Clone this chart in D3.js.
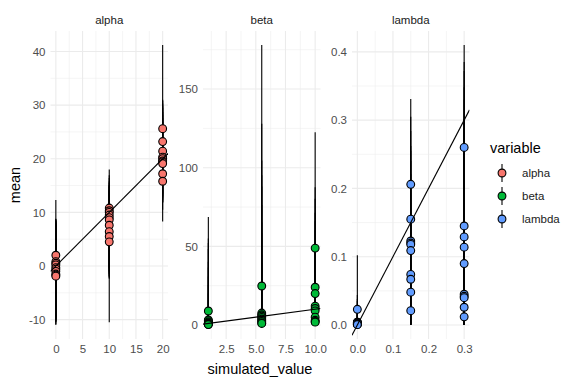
<!DOCTYPE html>
<html lang="en">
<head>
<meta charset="UTF-8">
<title>simulated vs mean</title>
<style>
    body { margin: 0; background: #fff; }
    svg { display: block; font-family: "Liberation Sans", Arial, sans-serif; }
    .grid-major { stroke: #EBEBEB; stroke-width: 1.1px; }
    .grid-minor { stroke: #EBEBEB; stroke-width: 0.55px; }
    .tick text { fill: #4D4D4D; font-size: 11.5px; }
</style>
</head>
<body>
<script src="https://d3js.org/d3.v7.min.js"></script>
<script>
// ---- data ----
var variables = ["alpha", "beta", "lambda"];
var colors = ["#F8766D", "#00BA38", "#619CFF"];

// alpha
var alphaSim   = [0,0,0,0,0,0,0,0,0,0, 10,10,10,10,10,10,10,10,10,10, 20,20,20,20,20,20,20,20,20,20];
var alphaMean  = [2.0,0.8,0.5,0.2,-0.3,-0.6,-1.0,-1.5,-1.7,-1.9,
                  10.8,10.3,10.0,9.5,9.0,8.6,7.6,6.4,5.5,4.5,
                  25.6,23.2,21.4,20.3,20.0,19.6,19.4,19.1,17.2,15.8];
var alphaLower = [-11.0,-10.2,-9.8,-10.5,-9.6,-10.1,-9.3,-10.8,-9.9,-10.4,
                  -10.5,-2.0,-1.2,-2.4,-0.5,-1.8,-0.9,-2.2,-1.5,-0.3,
                  8.3,12.0,12.3,11.8,13.1,12.6,13.5,11.9,12.8,10.5];
var alphaUpper = [12.3,8.8,8.7,8.5,8.2,8.0,8.6,7.9,8.4,7.5,
                  18.0,15.8,16.4,15.1,16.9,14.8,15.5,14.2,13.9,15.0,
                  41.2,30.8,29.5,31.0,28.7,29.9,30.3,28.2,27.6,26.9];

// beta
var betaSim   = [1,1,1,1,1,1,1,1,1,1, 5.5,5.5,5.5,5.5,5.5,5.5,5.5,5.5,5.5,5.5, 10,10,10,10,10,10,10,10,10,10];
var betaMean  = [8.9,3.2,2.8,2.0,1.5,1.2,0.9,0.6,0.4,0.3,
                 24.8,7.6,6.5,5.7,4.8,3.8,3.0,2.2,1.3,1.0,
                 48.9,24.0,20.0,12.0,10.5,9.0,5.0,3.0,2.2,1.8];
var betaLower = [0.0,0.1,0.1,0.0,0.1,0.0,0.0,0.0,0.0,0.0,
                 0.5,0.2,0.1,0.1,0.1,0.0,0.0,0.0,0.0,0.0,
                 2.0,0.5,0.4,0.2,0.2,0.1,0.1,0.0,0.0,0.0];
var betaUpper = [68.6,55.0,52.1,48.3,40.2,36.5,30.8,25.4,20.1,15.7,
                 178.0,128.0,104.5,95.2,88.0,76.3,65.1,58.4,44.7,39.2,
                 122.6,87.5,80.2,71.4,66.0,60.3,52.8,46.1,40.5,35.0];

// lambda
var lambdaSim   = [0,0,0,0,0,0,0,0,0,0, 0.15,0.15,0.15,0.15,0.15,0.15,0.15,0.15,0.15,0.15, 0.3,0.3,0.3,0.3,0.3,0.3,0.3,0.3,0.3,0.3];
var lambdaMean  = [0.023,0.004,0.004,0.003,0.003,0.002,0.002,0.001,0.001,0.0005,
                   0.206,0.155,0.123,0.120,0.118,0.109,0.074,0.067,0.048,0.021,
                   0.260,0.145,0.129,0.114,0.090,0.045,0.042,0.040,0.026,0.012];
var lambdaLower = [0,0,0,0,0,0,0,0,0,0,
                   0.002,0.001,0.001,0,0,0,0,0,0,0,
                   0.001,0,0,0,0,0,0,0,0,0];
var lambdaUpper = [0.102,0.044,0.038,0.035,0.030,0.028,0.025,0.021,0.018,0.015,
                   0.331,0.305,0.284,0.262,0.255,0.240,0.221,0.204,0.183,0.152,
                   0.410,0.385,0.372,0.348,0.330,0.301,0.296,0.288,0.270,0.251];

// ticks
var alphaXTicks = [0, 5, 10, 15, 20],        alphaXLabels = ["0", "5", "10", "15", "20"];
var alphaYTicks = [-10, 0, 10, 20, 30, 40],  alphaYLabels = ["-10", "0", "10", "20", "30", "40"];
var betaXTicks = [2.5, 5, 7.5, 10],          betaXLabels = ["2.5", "5.0", "7.5", "10.0"];
var betaYTicks = [0, 50, 100, 150],          betaYLabels = ["0", "50", "100", "150"];
var lambdaXTicks = [0, 0.1, 0.2, 0.3],       lambdaXLabels = ["0.0", "0.1", "0.2", "0.3"];
var lambdaYTicks = [0, 0.1, 0.2, 0.3, 0.4],  lambdaYLabels = ["0.0", "0.1", "0.2", "0.3", "0.4"];

// ---- layout ----
var W = 576, H = 384;
var panelLeft = [50.5, 203, 352], panelW = 117.5;
var panelTop = 31, panelBottom = 339;

var panels = [
    {sim: alphaSim, mean: alphaMean, lo: alphaLower, hi: alphaUpper,
     xt: alphaXTicks, xl: alphaXLabels, yt: alphaYTicks, yl: alphaYLabels},
    {sim: betaSim, mean: betaMean, lo: betaLower, hi: betaUpper,
     xt: betaXTicks, xl: betaXLabels, yt: betaYTicks, yl: betaYLabels},
    {sim: lambdaSim, mean: lambdaMean, lo: lambdaLower, hi: lambdaUpper,
     xt: lambdaXTicks, xl: lambdaXLabels, yt: lambdaYTicks, yl: lambdaYLabels}
];

var svg = d3.select("body").append("svg")
    .attr("width", W)
    .attr("height", H);

svg.append("rect").attr("width", W).attr("height", H).attr("fill", "#fff");

// ggplot style 5% expansion
function expand(ext) {
    var d = (ext[1] - ext[0]) * 0.05;
    return [ext[0] - d, ext[1] + d];
}

// minor breaks halfway between majors
function minors(ticks, dom) {
    var step = ticks[1] - ticks[0];
    var out = [ticks[0] - step / 2];
    ticks.forEach(function (t) { out.push(t + step / 2); });
    return out.filter(function (v) { return v >= dom[0] && v <= dom[1]; });
}

var defs = svg.append("defs");

panels.forEach(function (p, i) {
    var x0 = panelLeft[i], x1 = x0 + panelW;
    var xDom = expand(d3.extent(p.sim));
    var yDom = expand([d3.min(p.lo.concat(p.mean)), d3.max(p.hi.concat(p.mean))]);

    var x = d3.scaleLinear().domain(xDom).range([x0, x1]);
    var y = d3.scaleLinear().domain(yDom).range([panelBottom, panelTop]);

    var g = svg.append("g");

    // grid
    var grid = g.append("g");
    grid.selectAll(".gx-minor").data(minors(p.xt, xDom)).enter().append("line")
        .attr("class", "grid-minor")
        .attr("x1", x).attr("x2", x).attr("y1", panelTop).attr("y2", panelBottom);
    grid.selectAll(".gy-minor").data(minors(p.yt, yDom)).enter().append("line")
        .attr("class", "grid-minor")
        .attr("y1", y).attr("y2", y).attr("x1", x0).attr("x2", x1);
    grid.selectAll(".gx-major").data(p.xt).enter().append("line")
        .attr("class", "grid-major")
        .attr("x1", x).attr("x2", x).attr("y1", panelTop).attr("y2", panelBottom);
    grid.selectAll(".gy-major").data(p.yt).enter().append("line")
        .attr("class", "grid-major")
        .attr("y1", y).attr("y2", y).attr("x1", x0).attr("x2", x1);

    // axes (no ticks, no domain, like theme_minimal)
    var xAxis = d3.axisBottom(x).tickValues(p.xt)
        .tickFormat(function (d, k) { return p.xl[k]; })
        .tickSize(0).tickPadding(6);
    var yAxis = d3.axisLeft(y).tickValues(p.yt)
        .tickFormat(function (d, k) { return p.yl[k]; })
        .tickSize(0).tickPadding(5);

    g.append("g").attr("transform", "translate(0," + panelBottom + ")").call(xAxis)
        .call(function (s) { s.select(".domain").remove(); })
        .selectAll("text").attr("font-family", null).attr("font-size", null);
    g.append("g").attr("transform", "translate(" + x0 + ",0)").call(yAxis)
        .call(function (s) { s.select(".domain").remove(); })
        .selectAll("text").attr("font-family", null).attr("font-size", null);

    // strip
    g.append("text")
        .attr("x", (x0 + x1) / 2).attr("y", 24)
        .attr("text-anchor", "middle")
        .attr("fill", "#1A1A1A")
        .attr("font-size", "11.5px")
        .text(variables[i]);

    var idx = d3.range(p.sim.length);

    // error bars
    g.append("g").selectAll("line").data(idx).enter().append("line")
        .attr("x1", function (k) { return x(p.sim[k]); })
        .attr("x2", function (k) { return x(p.sim[k]); })
        .attr("y1", function (k) { return y(p.lo[k]); })
        .attr("y2", function (k) { return y(p.hi[k]); })
        .attr("stroke", "#000")
        .attr("stroke-width", 1.1);

    // points
    g.append("g").selectAll("circle").data(idx).enter().append("circle")
        .attr("cx", function (k) { return x(p.sim[k]); })
        .attr("cy", function (k) { return y(p.mean[k]); })
        .attr("r", 3.9)
        .attr("fill", colors[i])
        .attr("stroke", "#000")
        .attr("stroke-width", 1.1);

    // identity line, clipped to the panel
    defs.append("clipPath").attr("id", "clip" + i)
        .append("rect")
        .attr("x", x0).attr("y", panelTop)
        .attr("width", panelW).attr("height", panelBottom - panelTop);

    g.append("line")
        .attr("clip-path", "url(#clip" + i + ")")
        .attr("x1", x(xDom[0])).attr("y1", y(xDom[0]))
        .attr("x2", x(xDom[1])).attr("y2", y(xDom[1]))
        .attr("stroke", "#000")
        .attr("stroke-width", 1.1);
});

// axis titles
svg.append("text")
    .attr("x", (panelLeft[0] + panelLeft[2] + panelW) / 2)
    .attr("y", 374)
    .attr("text-anchor", "middle")
    .attr("font-size", "14.5px")
    .text("simulated_value");

svg.append("text")
    .attr("transform", "translate(20," + (panelTop + panelBottom) / 2 + ") rotate(-90)")
    .attr("text-anchor", "middle")
    .attr("font-size", "14.5px")
    .text("mean");

// legend
var legend = svg.append("g").attr("transform", "translate(490,0)");
legend.append("text")
    .attr("x", 0).attr("y", 153)
    .attr("font-size", "14.5px")
    .text("variable");

var keyY = [173, 196, 219];
variables.forEach(function (v, i) {
    legend.append("line")
        .attr("x1", 12).attr("x2", 12)
        .attr("y1", keyY[i] - 9).attr("y2", keyY[i] + 9)
        .attr("stroke", "#000").attr("stroke-width", 1.1);
    legend.append("circle")
        .attr("cx", 12).attr("cy", keyY[i]).attr("r", 3.9)
        .attr("fill", colors[i]).attr("stroke", "#000").attr("stroke-width", 1.1);
    legend.append("text")
        .attr("x", 32).attr("y", keyY[i] + 4)
        .attr("font-size", "11.5px")
        .attr("fill", "#1A1A1A")
        .text(v);
});
</script>
</body>
</html>
